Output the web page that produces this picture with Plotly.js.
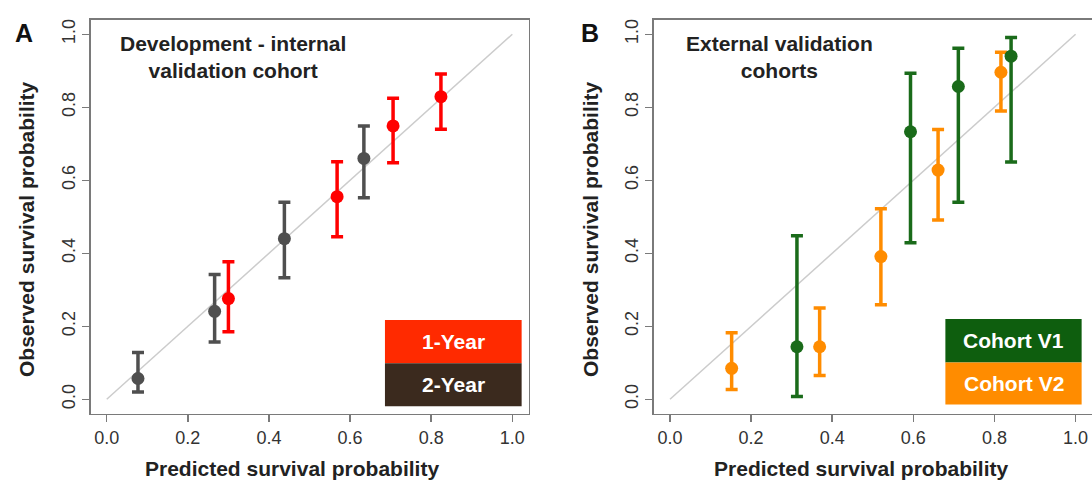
<!DOCTYPE html>
<html>
<head>
<meta charset="utf-8">
<script src="https://cdn.plot.ly/plotly-3.0.1.min.js"></script>
<style>html,body{margin:0;padding:0;background:#fff;}#chart{width:1092px;height:480px;}</style>
</head>
<body>
<div id="chart"></div>
<script>
// Panel A: Development - internal validation cohort
const predA_1yr = [0.300, 0.568, 0.706, 0.824];
const obsA_1yr  = [0.276, 0.555, 0.749, 0.829];
const loA_1yr   = [0.185, 0.445, 0.648, 0.740];
const hiA_1yr   = [0.377, 0.651, 0.825, 0.891];

const predA_2yr = [0.077, 0.266, 0.438, 0.634];
const obsA_2yr  = [0.057, 0.241, 0.440, 0.660];
const loA_2yr   = [0.020, 0.157, 0.333, 0.552];
const hiA_2yr   = [0.128, 0.342, 0.540, 0.749];

// Panel B: External validation cohorts
const predB_v1 = [0.313, 0.593, 0.711, 0.841];
const obsB_v1  = [0.144, 0.733, 0.857, 0.940];
const loB_v1   = [0.008, 0.429, 0.540, 0.650];
const hiB_v1   = [0.448, 0.893, 0.962, 0.991];

const predB_v2 = [0.152, 0.369, 0.520, 0.661, 0.816];
const obsB_v2  = [0.085, 0.144, 0.391, 0.628, 0.896];
const loB_v2   = [0.027, 0.065, 0.259, 0.491, 0.790];
const hiB_v2   = [0.182, 0.250, 0.522, 0.739, 0.951];

const diag = [0, 1];
const tickVals = [0, 0.2, 0.4, 0.6, 0.8, 1.0];
const tickText = ["0.0", "0.2", "0.4", "0.6", "0.8", "1.0"];
const legendA = ["1-Year", "2-Year"];
const legendB = ["Cohort V1", "Cohort V2"];
const panelTitles = ["Development - internal<br>validation cohort", "External validation<br>cohorts"];
const xTitle = "Predicted survival probability";
const yTitle = "Observed survival probability";

const FONT = "Liberation Sans, Arial, sans-serif";

function pointTrace(x, y, lo, hi, color, xa, ya) {
  return {
    type: "scatter", mode: "markers", x: x, y: y, xaxis: xa, yaxis: ya,
    marker: {color: color, size: 13},
    error_y: {type: "data", symmetric: false,
      array: hi.map((h, i) => h - y[i]),
      arrayminus: lo.map((l, i) => y[i] - l),
      color: color, thickness: 3.5, width: 6},
    showlegend: false, hoverinfo: "x+y"
  };
}
function diagTrace(xa, ya) {
  return {type: "scatter", mode: "lines", x: diag, y: diag, xaxis: xa, yaxis: ya,
    line: {color: "#cccccc", width: 1.5}, showlegend: false, hoverinfo: "skip"};
}

const data = [
  diagTrace("x", "y"),
  pointTrace(predA_2yr, obsA_2yr, loA_2yr, hiA_2yr, "#4f4f4f", "x", "y"),
  pointTrace(predA_1yr, obsA_1yr, loA_1yr, hiA_1yr, "#ff0000", "x", "y"),
  diagTrace("x2", "y2"),
  pointTrace(predB_v2, obsB_v2, loB_v2, hiB_v2, "#ff8c00", "x2", "y2"),
  pointTrace(predB_v1, obsB_v1, loB_v1, hiB_v1, "#1a6b1a", "x2", "y2")
];

const NB = "\u00a0";
function xAxis(domain, anchor, pad) {
  return {domain: domain, anchor: anchor, range: [-0.04, 1.04], tickvals: tickVals, ticktext: tickText,
    showgrid: false, zeroline: false, showline: true, mirror: true, linecolor: "#7a7a7a", linewidth: 1.5,
    ticks: "outside", ticklen: 7, tickwidth: 1.5, tickcolor: "#7a7a7a",
    tickfont: {family: FONT, size: 18, color: "#333"},
    title: {text: "<b>" + xTitle + NB.repeat(pad) + "</b>", font: {family: FONT, size: 21, color: "#222"}, standoff: 14}};
}
function yAxis(domain, anchor) {
  return {domain: domain, anchor: anchor, range: [-0.04, 1.04], tickvals: tickVals, ticktext: tickText,
    showgrid: false, zeroline: false, showline: true, mirror: true, linecolor: "#7a7a7a", linewidth: 1.5,
    ticks: "outside", ticklen: 7, tickwidth: 1.5, tickcolor: "#7a7a7a", tickangle: -90,
    tickfont: {family: FONT, size: 18, color: "#333"}};
}

const shapes = [
  {type: "rect", xref: "x", yref: "y", x0: 0.686, x1: 1.023, y0: 0.099, y1: 0.217, fillcolor: "#ff2a00", line: {width: 0}},
  {type: "rect", xref: "x", yref: "y", x0: 0.686, x1: 1.023, y0: -0.019, y1: 0.099, fillcolor: "#3b2a1e", line: {width: 0}},
  {type: "rect", xref: "x2", yref: "y2", x0: 0.679, x1: 1.015, y0: 0.101, y1: 0.220, fillcolor: "#0e5e0e", line: {width: 0}},
  {type: "rect", xref: "x2", yref: "y2", x0: 0.679, x1: 1.015, y0: -0.014, y1: 0.101, fillcolor: "#ff8c00", line: {width: 0}}
];

const white = {family: FONT, size: 21, color: "#ffffff"};
const dark = {family: FONT, size: 21, color: "#222"};
const axisFont = {family: FONT, size: 21, color: "#222"};
const annotations = [
  {xref: "x", yref: "y", x: 0.855, y: 0.158, text: "<b>" + legendA[0] + "</b>", showarrow: false, font: white},
  {xref: "x", yref: "y", x: 0.855, y: 0.040, text: "<b>" + legendA[1] + "</b>", showarrow: false, font: white},
  {xref: "x2", yref: "y2", x: 0.847, y: 0.161, text: "<b>" + legendB[0] + "</b>", showarrow: false, font: white},
  {xref: "x2", yref: "y2", x: 0.847, y: 0.044, text: "<b>" + legendB[1] + "</b>", showarrow: false, font: white},
  {xref: "x", yref: "y", x: 0.311, y: 0.9386, text: "<b>" + panelTitles[0] + "</b>", showarrow: false, font: dark},
  {xref: "x2", yref: "y2", x: 0.269, y: 0.9386, text: "<b>" + panelTitles[1] + "</b>", showarrow: false, font: dark},
  {xref: "paper", yref: "paper", x: 26 / 1092, y: 1 - 229 / 480, text: "<b>" + yTitle + "</b>", textangle: -90,
    xanchor: "center", yanchor: "middle", showarrow: false, font: axisFont},
  {xref: "paper", yref: "paper", x: 590 / 1092, y: 1 - 229 / 480, text: "<b>" + yTitle + "</b>", textangle: -90,
    xanchor: "center", yanchor: "middle", showarrow: false, font: axisFont},
  {xref: "paper", yref: "paper", x: 23.5 / 1092, y: 1 - 32.5 / 480, text: "<b>A</b>", showarrow: false,
    xanchor: "center", yanchor: "middle", font: {family: FONT, size: 25, color: "#111"}},
  {xref: "paper", yref: "paper", x: 589.5 / 1092, y: 1 - 32.5 / 480, text: "<b>B</b>", showarrow: false,
    xanchor: "center", yanchor: "middle", font: {family: FONT, size: 25, color: "#111"}}
];

const layout = {
  width: 1092, height: 480,
  margin: {l: 0, r: 0, t: 0, b: 0},
  paper_bgcolor: "#ffffff", plot_bgcolor: "#ffffff",
  showlegend: false,
  xaxis: xAxis([0.0829, 0.4840], "y", 6),
  yaxis: yAxis([0.1377, 0.959], "x"),
  xaxis2: xAxis([0.5987, 0.9998], "y2", 4),
  yaxis2: yAxis([0.1377, 0.959], "x2"),
  shapes: shapes,
  annotations: annotations
};

Plotly.newPlot("chart", data, layout, {displayModeBar: false, staticPlot: true});
</script>
</body>
</html>
